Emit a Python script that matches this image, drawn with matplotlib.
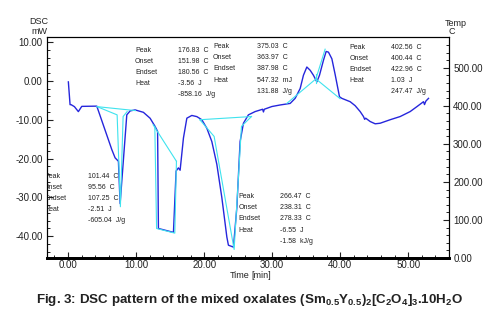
import matplotlib
matplotlib.use("Agg")
import matplotlib.pyplot as plt
from matplotlib.ticker import MultipleLocator

plt.rcParams['font.family'] = ['Liberation Sans', 'DejaVu Sans']
plt.rcParams['mathtext.fontset'] = 'custom'
plt.rcParams['mathtext.rm'] = 'Liberation Sans:bold'
plt.rcParams['mathtext.it'] = 'Liberation Sans:bold'
plt.rcParams['mathtext.bf'] = 'Liberation Sans:bold'
plt.rcParams['mathtext.default'] = 'rm'

# ---- DSC curve (time [min], heat flow [mW]) ----
time_min = [0.04, 0.29, 0.44, 0.93, 1.51, 2.01, 4.22, 6.43, 6.91, 7.40, 7.65, 8.63, 9.12,
            9.85, 11.07, 12.06, 12.79, 13.16, 13.28, 15.49, 15.88, 16.22, 16.47, 16.96,
            17.46, 18.19, 18.93, 19.66, 20.40, 21.13, 21.87, 22.60, 23.34, 23.57, 24.31,
            24.81, 25.29, 25.78, 26.51, 27.5, 28.6, 28.72, 28.85, 29.96, 31.18, 32.65,
            33.38, 34.12, 34.6, 35.1, 35.59, 36.07, 36.57, 36.96, 37.54, 37.94, 38.28,
            38.78, 39.26, 39.9, 40.25, 41.47, 42.2, 42.94, 43.43, 43.6, 43.75, 44.41,
            45.15, 45.88, 47.35, 48.82, 50.29, 51.28, 52.25, 52.4, 52.6, 52.99]
dsc_mw = [-0.26, -6.12, -6.12, -6.63, -7.91, -6.56, -6.5, -17.7, -19.8, -20.7, -31.6, -8.75,
          -7.73, -7.47, -8.09, -9.62, -11.73, -13.0, -38.0, -39.0, -23.2, -22.4, -23.0,
          -14.7, -9.6, -8.9, -9.2, -10.0, -12.2, -15.6, -21.5, -30.0, -40.2, -42.3, -42.8,
          -32.6, -15.6, -10.9, -8.75, -7.9, -7.3, -8.0, -7.3, -6.6, -6.2, -5.8, -4.5,
          -1.96, 1.45, 3.57, 2.73, 1.45, -0.26, 1.45, 5.28, 7.58, 7.4, 5.69, 1.66, -4.08,
          -4.5, -5.36, -6.38, -7.9, -9.18, -9.9, -9.6, -10.46, -11.05, -10.9, -10.0,
          -9.18, -7.9, -6.63, -5.36, -6.1, -5.2, -4.5]

# ---- cyan baseline / tangent constructions ----
base_t = [[4.26, 9.90], [4.26, 7.21, 7.69, 8.09, 8.68],
          [12.5, 15.93], [12.75, 13.01, 15.69, 15.93],
          [19.37, 26.96], [19.37, 21.47, 24.41, 25.49, 26.96],
          [32.16, 36.43, 37.79], [36.43, 40.0], [36.43, 36.43]]
base_v = [[-6.63, -7.65], [-6.63, -8.75, -32.4, -9.18, -7.9],
          [-11.3, -20.7], [-11.7, -38.0, -39.2, -20.7],
          [-10.0, -9.18], [-10.0, -14.3, -43.4, -11.7, -9.18],
          [-5.79, 0.51, 8.16], [0.51, -4.6], [1.79, -0.51]]

# ---- peak evaluation tables ----
row_labels = ['Peak', 'Onset', 'Endset', 'Heat']
peak_values = [
    ['176.83  C', '151.98  C', '180.56  C', '-3.56  J', '-858.16  J/g'],
    ['375.03  C', '363.97  C', '387.98  C', '547.32  mJ', '131.88  J/g'],
    ['402.56  C', '400.44  C', '422.96  C', '1.03  J', '247.47  J/g'],
    ['101.44  C', '95.56  C', '107.25  C', '-2.51  J', '-605.04  J/g'],
    ['266.47  C', '238.31  C', '278.33  C', '-6.55  J', '-1.58  kJ/g'],
]
# table anchor: (label x, value x, first row y, row step) in data units
table_pos = [(9.85, 16.18, 7.91, -2.87), (21.32, 27.79, 8.93, -2.93),
             (41.32, 47.5, 8.67, -2.87), (-3.55, 2.94, -24.5, -2.87),
             (25.0, 31.18, -29.8, -2.87)]

xticks = [0, 10, 20, 30, 40, 50]
yticks_left = [10, 0, -10, -20, -30, -40]
yticks_right = [0, 100, 200, 300, 400, 500]

fig = plt.figure(figsize=(4.98, 3.36), dpi=100)
ax = fig.add_axes([47/498, 1-258/336, (449-47)/498, (258-37)/336])
ax2 = ax.twinx()

blue = '#2626dc'
cyan = '#3fe3ee'
ax.plot(time_min, dsc_mw, color=blue, lw=1.0, zorder=3)
for bt, bv in zip(base_t, base_v):
    ax.plot(bt, bv, color=cyan, lw=0.8, zorder=4)

ax.set_xlim(-3.1, 56.0)
ax.set_ylim(-45.6, 11.3)
ax2.set_ylim(0, 581)

ax.set_xticks(xticks)
ax.set_xticklabels([f'{v:.2f}' for v in xticks])
ax.set_yticks(yticks_left)
ax.set_yticklabels([f'{v:.2f}' for v in yticks_left])
ax2.set_yticks(yticks_right)
ax2.set_yticklabels([f'{v:.2f}' for v in yticks_right])
ax.xaxis.set_minor_locator(MultipleLocator(2))
ax.yaxis.set_minor_locator(MultipleLocator(2))
ax2.yaxis.set_minor_locator(MultipleLocator(20))

for a in (ax, ax2):
    a.tick_params(which='major', direction='in', length=4, width=0.8, labelsize=7,
                  colors='#222222', pad=3)
    a.tick_params(which='minor', direction='in', length=2, width=0.6)
ax.tick_params(axis='x', pad=1.5)
ax.spines['bottom'].set_linewidth(2.0)
for s in ('left', 'right', 'top'):
    ax.spines[s].set_linewidth(0.8)
    ax2.spines[s].set_linewidth(0.8)
ax2.spines['bottom'].set_linewidth(2.0)

txt_kw = dict(fontsize=5, color='#222222', va='center', ha='left', clip_on=True)
for (lx, vx, y0, dy), vals in zip(table_pos, peak_values):
    for i, lab in enumerate(row_labels):
        ax.text(lx, y0 + i*dy, lab, **txt_kw)
    for i, val in enumerate(vals):
        ax.text(vx, y0 + i*dy, val, **txt_kw)

fig.text(39/498, 1-22/336, 'DSC', fontsize=6.5, ha='center', va='center', color='#222222')
fig.text(39/498, 1-32/336, 'mW', fontsize=6.5, ha='center', va='center', color='#222222')
fig.text(456/498, 1-23/336, 'Temp', fontsize=6.5, ha='center', va='center', color='#222222')
fig.text(452/498, 1-32/336, 'C', fontsize=6.5, ha='center', va='center', color='#222222')
fig.text(240/498, 1-275.5/336, 'Time', fontsize=6.5, ha='center', va='center', color='#222222')
fig.text(261/498, 1-275.5/336, '[min]', fontsize=6.5, ha='center', va='center', color='#222222')

fig.text(0.5, 1-300/336,
         r'Fig. 3: DSC pattern of the mixed oxalates (Sm$_{0.5}$Y$_{0.5}$)$_2$[C$_2$O$_4$]$_3$.10H$_2$O',
         fontsize=9.6, fontweight='bold', ha='center', va='center', color='#222222')

fig.savefig('out.png', dpi=100)
